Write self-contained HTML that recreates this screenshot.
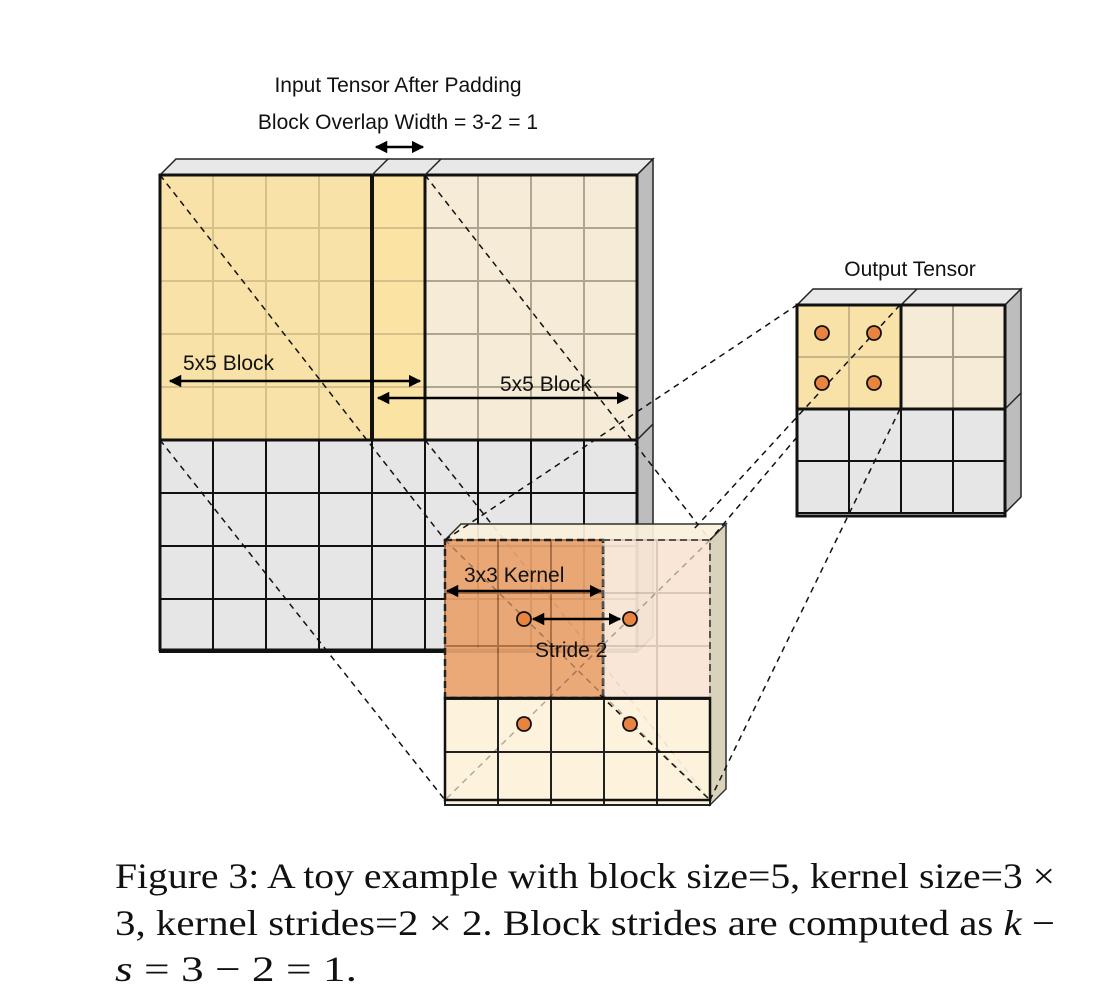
<!DOCTYPE html>
<html><head><meta charset="utf-8"><style>
body{margin:0;background:#fff;width:1116px;height:1008px;overflow:hidden}
svg{display:block}
.lbl{font-family:"Liberation Sans",sans-serif;font-size:21px;fill:#111}
</style></head><body>
<svg id="fig" width="1116" height="1008" viewBox="0 0 1116 1008" xmlns="http://www.w3.org/2000/svg">
<defs>
<marker id="ah" viewBox="0 0 10 10" refX="9" refY="5" markerWidth="5" markerHeight="5" orient="auto-start-reverse"><path d="M0,0L10,5L0,10z" fill="#000"/></marker>
</defs>
<g id="layers"></g>
<text class="lbl" x="398" y="92" text-anchor="middle">Input Tensor After Padding</text>
<text class="lbl" x="398" y="129" text-anchor="middle">Block Overlap Width = 3-2 = 1</text>
<line x1="376" y1="147" x2="423" y2="147" stroke="#000" stroke-width="2.5" marker-start="url(#ah)" marker-end="url(#ah)"/>
<text class="lbl" x="910" y="276" text-anchor="middle">Output Tensor</text>
<g id="toplayer"></g>
<g font-family="Liberation Serif, serif" font-size="36" fill="#111">
<text x="115" y="888" textLength="940" lengthAdjust="spacingAndGlyphs">Figure 3: A toy example with block size=5, kernel size=3 ×</text>
<text x="115" y="935" textLength="940" lengthAdjust="spacingAndGlyphs">3, kernel strides=2 × 2. Block strides are computed as <tspan font-style="italic">k</tspan> −</text>
<text x="115" y="981" textLength="242" lengthAdjust="spacingAndGlyphs"><tspan font-style="italic">s</tspan> = 3 − 2 = 1.</text>
</g>
</svg>
<script>
const dashA=[[160,175,445,540],[425,175,710,540],[160,440,445,800],[425,440,710,800]];
const dashB=[[445,540,797,305],[900,305,693,530],[797,437,710,540],[900,409,710,800]];
const dots=[[524,619],[630,619],[524,724],[630,724],[822,333],[874,333],[822,383],[874,383]];
(function(){
const NS="http://www.w3.org/2000/svg";
const layers=document.getElementById('layers'), topLayer=document.getElementById('toplayer');
function mk(tag,attrs,parent){const e=document.createElementNS(NS,tag);for(const k in attrs)e.setAttribute(k,attrs[k]);(parent||layers).appendChild(e);return e;}
function tensor(x,y,c,cols,rows,side,topc,fill,name,op){
  const W=c*cols,H=c*rows,d=16;
  const g=mk('g',{opacity:op||1});
  
  
  mk('polygon',{points:`${x},${y} ${x+d},${y-d} ${x+W+d},${y-d} ${x+W},${y}`,fill:topc,stroke:'#222','stroke-width':1.5},g);
  mk('polygon',{points:`${x+W},${y} ${x+W+d},${y-d} ${x+W+d},${y+H-d} ${x+W},${y+H}`,fill:side,stroke:'#222','stroke-width':1.5},g);
  for(let r=0;r<rows;r++)for(let q=0;q<cols;q++){
    const f=fill(r,q);
    mk('rect',{x:x+q*c,y:y+r*c,width:c,height:c,fill:f[0],stroke:f[1],'stroke-width':2},g);
  }
  return g;
}
tensor(160,175,53,9,9,'#bdbdbd','#e8e8e8',(r,q)=>r<5?(q<4?['#f8e2a8','#d8c08a']:q==4?['#fbe3a3','#d8c08a']:['#f5ebd7','#b0a690']):['#e6e6e6','#111'],'input-tensor');
mk('line',{x1:372,y1:175,x2:372,y2:440,stroke:'#111','stroke-width':4});
mk('line',{x1:425,y1:175,x2:425,y2:440,stroke:'#111','stroke-width':3});
mk('line',{x1:160,y1:440,x2:637,y2:440,stroke:'#111','stroke-width':3});
mk('rect',{x:160,y:175,width:477,height:475,fill:'none',stroke:'#111','stroke-width':3});
mk('line',{x1:372,y1:175,x2:388,y2:159,stroke:'#222','stroke-width':1.5});
mk('line',{x1:425,y1:175,x2:441,y2:159,stroke:'#222','stroke-width':1.5});
mk('line',{x1:637,y1:440,x2:653,y2:424,stroke:'#222','stroke-width':1.5});
tensor(797,305,52,4,4,'#bdbdbd','#e8e8e8',(r,q)=>r<2?(q<2?['#f8e2a8','#c8b58a']:['#f5ebd7','#a89f8b']):['#e6e6e6','#111'],'output-tensor');
mk('line',{x1:901,y1:305,x2:901,y2:409,stroke:'#111','stroke-width':3});
mk('line',{x1:797,y1:409,x2:1005,y2:409,stroke:'#111','stroke-width':3});
mk('line',{x1:901,y1:305,x2:917,y2:289,stroke:'#222','stroke-width':1.5});
mk('line',{x1:1005,y1:409,x2:1021,y2:393,stroke:'#222','stroke-width':1.5});
mk('rect',{x:797,y:305,width:208,height:211,fill:'none',stroke:'#111','stroke-width':3});
dashA.forEach(l=>{const e=mk('line',{x1:l[0],y1:l[1],x2:l[2],y2:l[3],stroke:'#111','stroke-width':1.5,'stroke-dasharray':'6,5'});

});
tensor(445,540,53,5,5,'#d8d0b8','#faf1dc',(r,q)=>r<3?(q<3?['#eba36e','#a8683a']:['#f9e5d5','#d8c4b4']):['#fdf3da','#111'],'block-tensor',0.93);
mk('rect',{x:445,y:540,width:158,height:158,fill:'none',stroke:'#222','stroke-width':2.5,'stroke-dasharray':'7,4'});
mk('rect',{x:603,y:540,width:107,height:158,fill:'none',stroke:'#555','stroke-width':2,'stroke-dasharray':'7,4'});
mk('rect',{x:445,y:698,width:265,height:102,fill:'none',stroke:'#111','stroke-width':2.5});
[[445,540,710,800],[710,540,445,800]].forEach(l=>mk('line',{x1:l[0],y1:l[1],x2:l[2],y2:l[3],stroke:'rgba(0,0,0,0.3)','stroke-width':1.5,'stroke-dasharray':'6,5'}));
mk('line',{x1:600,y1:695,x2:710,y2:800,stroke:'#111','stroke-width':1.5,'stroke-dasharray':'6,5'});
dashB.forEach(l=>{const e=mk('line',{x1:l[0],y1:l[1],x2:l[2],y2:l[3],stroke:'#111','stroke-width':1.5,'stroke-dasharray':'6,5'},topLayer);

});
dots.forEach(d=>{const c=mk('circle',{cx:d[0],cy:d[1],r:7,fill:'#e8843f',stroke:'#111','stroke-width':1.8},topLayer);

});
const arrows=[[170,381,420,381,'block-arrow-left'],[378,398,628,398,'block-arrow-right'],[447,591,601,591,'kernel-arrow'],[533,619,620,619,'stride-arrow']];
arrows.forEach(a=>{const e=mk('line',{x1:a[0],y1:a[1],x2:a[2],y2:a[3],stroke:'#000','stroke-width':2.5,'marker-start':'url(#ah)','marker-end':'url(#ah)'},topLayer);

});
const labels=[[183,370,'5x5 Block','block-label-left'],[500,391,'5x5 Block','block-label-right'],[464,582,'3x3 Kernel','kernel-label'],[535,657,'Stride 2','stride-label']];
labels.forEach(t=>{const e=mk('text',{x:t[0],y:t[1],class:'lbl'},topLayer);e.textContent=t[2];

});
})();
</script>
</body></html>
